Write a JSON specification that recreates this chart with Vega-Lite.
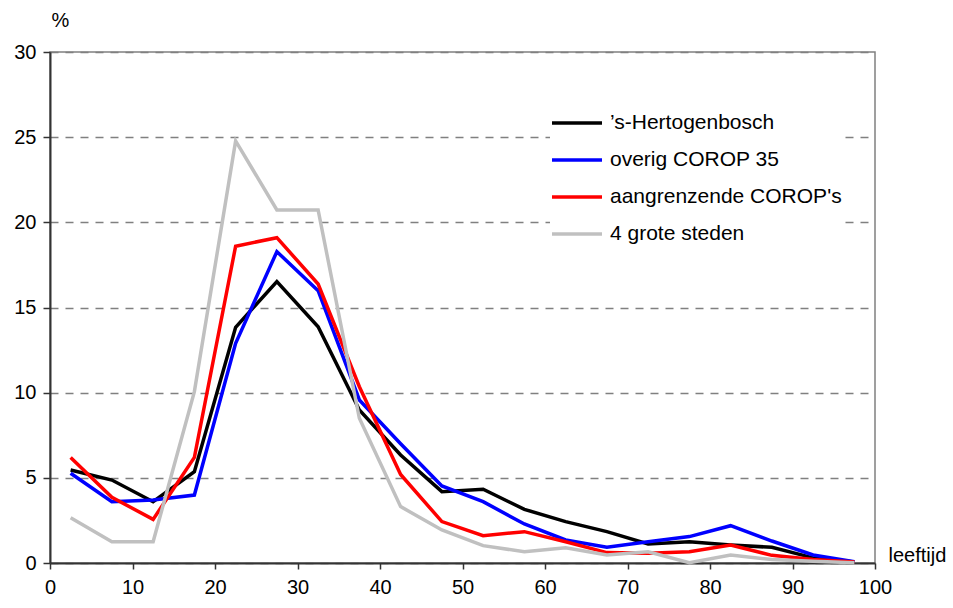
{
  "$schema": "https://vega.github.io/schema/vega-lite/v6.json",
  "autosize": "none",
  "width": 825,
  "height": 511,
  "padding": {"left": 50, "top": 52, "right": 78, "bottom": 45},
  "background": "white",
  "config": {
    "font": "Liberation Sans",
    "view": {"stroke": "#808080", "strokeWidth": 1.5}
  },
  "datasets": {
    "d": [
      {"leeftijd": 2.5, "serie": "’s-Hertogenbosch", "pct": 5.46},
      {"leeftijd": 7.5, "serie": "’s-Hertogenbosch", "pct": 4.87},
      {"leeftijd": 12.5, "serie": "’s-Hertogenbosch", "pct": 3.6},
      {"leeftijd": 17.5, "serie": "’s-Hertogenbosch", "pct": 5.36},
      {"leeftijd": 22.5, "serie": "’s-Hertogenbosch", "pct": 13.84},
      {"leeftijd": 27.5, "serie": "’s-Hertogenbosch", "pct": 16.52},
      {"leeftijd": 32.5, "serie": "’s-Hertogenbosch", "pct": 13.87},
      {"leeftijd": 37.5, "serie": "’s-Hertogenbosch", "pct": 8.98},
      {"leeftijd": 42.5, "serie": "’s-Hertogenbosch", "pct": 6.34},
      {"leeftijd": 47.5, "serie": "’s-Hertogenbosch", "pct": 4.19},
      {"leeftijd": 52.5, "serie": "’s-Hertogenbosch", "pct": 4.33},
      {"leeftijd": 57.5, "serie": "’s-Hertogenbosch", "pct": 3.15},
      {"leeftijd": 62.5, "serie": "’s-Hertogenbosch", "pct": 2.43},
      {"leeftijd": 67.5, "serie": "’s-Hertogenbosch", "pct": 1.84},
      {"leeftijd": 72.5, "serie": "’s-Hertogenbosch", "pct": 1.12},
      {"leeftijd": 77.5, "serie": "’s-Hertogenbosch", "pct": 1.25},
      {"leeftijd": 82.5, "serie": "’s-Hertogenbosch", "pct": 1.06},
      {"leeftijd": 87.5, "serie": "’s-Hertogenbosch", "pct": 0.92},
      {"leeftijd": 92.5, "serie": "’s-Hertogenbosch", "pct": 0.3},
      {"leeftijd": 97.5, "serie": "’s-Hertogenbosch", "pct": 0.06},

      {"leeftijd": 2.5, "serie": "overig  COROP 35", "pct": 5.27},
      {"leeftijd": 7.5, "serie": "overig  COROP 35", "pct": 3.6},
      {"leeftijd": 12.5, "serie": "overig  COROP 35", "pct": 3.7},
      {"leeftijd": 17.5, "serie": "overig  COROP 35", "pct": 3.99},
      {"leeftijd": 22.5, "serie": "overig  COROP 35", "pct": 12.9},
      {"leeftijd": 27.5, "serie": "overig  COROP 35", "pct": 18.28},
      {"leeftijd": 32.5, "serie": "overig  COROP 35", "pct": 15.99},
      {"leeftijd": 37.5, "serie": "overig  COROP 35", "pct": 9.57},
      {"leeftijd": 42.5, "serie": "overig  COROP 35", "pct": 7.0},
      {"leeftijd": 47.5, "serie": "overig  COROP 35", "pct": 4.52},
      {"leeftijd": 52.5, "serie": "overig  COROP 35", "pct": 3.6},
      {"leeftijd": 57.5, "serie": "overig  COROP 35", "pct": 2.29},
      {"leeftijd": 62.5, "serie": "overig  COROP 35", "pct": 1.35},
      {"leeftijd": 67.5, "serie": "overig  COROP 35", "pct": 0.92},
      {"leeftijd": 72.5, "serie": "overig  COROP 35", "pct": 1.25},
      {"leeftijd": 77.5, "serie": "overig  COROP 35", "pct": 1.55},
      {"leeftijd": 82.5, "serie": "overig  COROP 35", "pct": 2.19},
      {"leeftijd": 87.5, "serie": "overig  COROP 35", "pct": 1.29},
      {"leeftijd": 92.5, "serie": "overig  COROP 35", "pct": 0.47},
      {"leeftijd": 97.5, "serie": "overig  COROP 35", "pct": 0.08},

      {"leeftijd": 2.5, "serie": "aangrenzende COROP's", "pct": 6.2},
      {"leeftijd": 7.5, "serie": "aangrenzende COROP's", "pct": 3.86},
      {"leeftijd": 12.5, "serie": "aangrenzende COROP's", "pct": 2.56},
      {"leeftijd": 17.5, "serie": "aangrenzende COROP's", "pct": 6.2},
      {"leeftijd": 22.5, "serie": "aangrenzende COROP's", "pct": 18.6},
      {"leeftijd": 27.5, "serie": "aangrenzende COROP's", "pct": 19.1},
      {"leeftijd": 32.5, "serie": "aangrenzende COROP's", "pct": 16.38},
      {"leeftijd": 37.5, "serie": "aangrenzende COROP's", "pct": 10.35},
      {"leeftijd": 42.5, "serie": "aangrenzende COROP's", "pct": 5.2},
      {"leeftijd": 47.5, "serie": "aangrenzende COROP's", "pct": 2.43},
      {"leeftijd": 52.5, "serie": "aangrenzende COROP's", "pct": 1.6},
      {"leeftijd": 57.5, "serie": "aangrenzende COROP's", "pct": 1.84},
      {"leeftijd": 62.5, "serie": "aangrenzende COROP's", "pct": 1.25},
      {"leeftijd": 67.5, "serie": "aangrenzende COROP's", "pct": 0.61},
      {"leeftijd": 72.5, "serie": "aangrenzende COROP's", "pct": 0.57},
      {"leeftijd": 77.5, "serie": "aangrenzende COROP's", "pct": 0.66},
      {"leeftijd": 82.5, "serie": "aangrenzende COROP's", "pct": 1.06},
      {"leeftijd": 87.5, "serie": "aangrenzende COROP's", "pct": 0.45},
      {"leeftijd": 92.5, "serie": "aangrenzende COROP's", "pct": 0.2},
      {"leeftijd": 97.5, "serie": "aangrenzende COROP's", "pct": 0.06},

      {"leeftijd": 2.5, "serie": "4 grote steden", "pct": 2.66},
      {"leeftijd": 7.5, "serie": "4 grote steden", "pct": 1.25},
      {"leeftijd": 12.5, "serie": "4 grote steden", "pct": 1.25},
      {"leeftijd": 17.5, "serie": "4 grote steden", "pct": 10.06},
      {"leeftijd": 22.5, "serie": "4 grote steden", "pct": 24.78},
      {"leeftijd": 27.5, "serie": "4 grote steden", "pct": 20.73},
      {"leeftijd": 32.5, "serie": "4 grote steden", "pct": 20.73},
      {"leeftijd": 37.5, "serie": "4 grote steden", "pct": 8.5},
      {"leeftijd": 42.5, "serie": "4 grote steden", "pct": 3.31},
      {"leeftijd": 47.5, "serie": "4 grote steden", "pct": 1.94},
      {"leeftijd": 52.5, "serie": "4 grote steden", "pct": 1.02},
      {"leeftijd": 57.5, "serie": "4 grote steden", "pct": 0.66},
      {"leeftijd": 62.5, "serie": "4 grote steden", "pct": 0.9},
      {"leeftijd": 67.5, "serie": "4 grote steden", "pct": 0.47},
      {"leeftijd": 72.5, "serie": "4 grote steden", "pct": 0.66},
      {"leeftijd": 77.5, "serie": "4 grote steden", "pct": 0.02},
      {"leeftijd": 82.5, "serie": "4 grote steden", "pct": 0.47},
      {"leeftijd": 87.5, "serie": "4 grote steden", "pct": 0.2},
      {"leeftijd": 92.5, "serie": "4 grote steden", "pct": 0.1},
      {"leeftijd": 97.5, "serie": "4 grote steden", "pct": 0.02}
    ]
  },
  "data": {"name": "d"},
  "mark": {"type": "line", "strokeWidth": 3.5, "strokeJoin": "miter"},
  "encoding": {
    "x": {
      "field": "leeftijd",
      "type": "quantitative",
      "scale": {"domain": [0, 100], "nice": false},
      "axis": {
        "values": [0, 10, 20, 30, 40, 50, 60, 70, 80, 90, 100],
        "grid": false,
        "domainColor": "#333333",
        "domainWidth": 2,
        "tickColor": "#333333",
        "tickWidth": 1.5,
        "tickSize": 6,
        "labelFontSize": 20,
        "labelColor": "#000000",
        "labelPadding": 8,
        "labelFlush": false,
        "title": "leeftijd",
        "titleFontSize": 20,
        "titleFontWeight": "normal",
        "titleColor": "#000000",
        "titleAngle": 0,
        "titleAlign": "left",
        "titleBaseline": "middle",
        "titleX": 838,
        "titleY": -8
      }
    },
    "y": {
      "field": "pct",
      "type": "quantitative",
      "scale": {"domain": [0, 30], "nice": false},
      "axis": {
        "values": [0, 5, 10, 15, 20, 25, 30],
        "gridDash": [8, 7],
        "gridColor": "#808080",
        "gridWidth": 1.5,
        "domainColor": "#333333",
        "domainWidth": 2,
        "tickColor": "#333333",
        "tickWidth": 1.5,
        "tickSize": 7,
        "labelFontSize": 20,
        "labelColor": "#000000",
        "labelPadding": 7,
        "labelFlush": false,
        "title": "%",
        "titleFontSize": 20,
        "titleFontWeight": "normal",
        "titleColor": "#000000",
        "titleAngle": 0,
        "titleAlign": "center",
        "titleBaseline": "middle",
        "titleX": 10,
        "titleY": -32
      }
    },
    "color": {
      "field": "serie",
      "type": "nominal",
      "sort": ["’s-Hertogenbosch", "overig  COROP 35", "aangrenzende COROP's", "4 grote steden"],
      "scale": {
        "domain": ["’s-Hertogenbosch", "overig  COROP 35", "aangrenzende COROP's", "4 grote steden"],
        "range": ["#000000", "#0000FF", "#FF0000", "#C0C0C0"]
      },
      "legend": {
        "title": null,
        "orient": "none",
        "legendX": 500,
        "legendY": 44,
        "symbolType": "stroke",
        "symbolSize": 2500,
        "symbolStrokeWidth": 3.5,
        "labelFontSize": 21,
        "labelLimit": 400,
        "labelColor": "#000000",
        "labelOffset": 6,
        "rowPadding": 0,
        "fillColor": "white",
        "padding": 0
      }
    }
  }
}
